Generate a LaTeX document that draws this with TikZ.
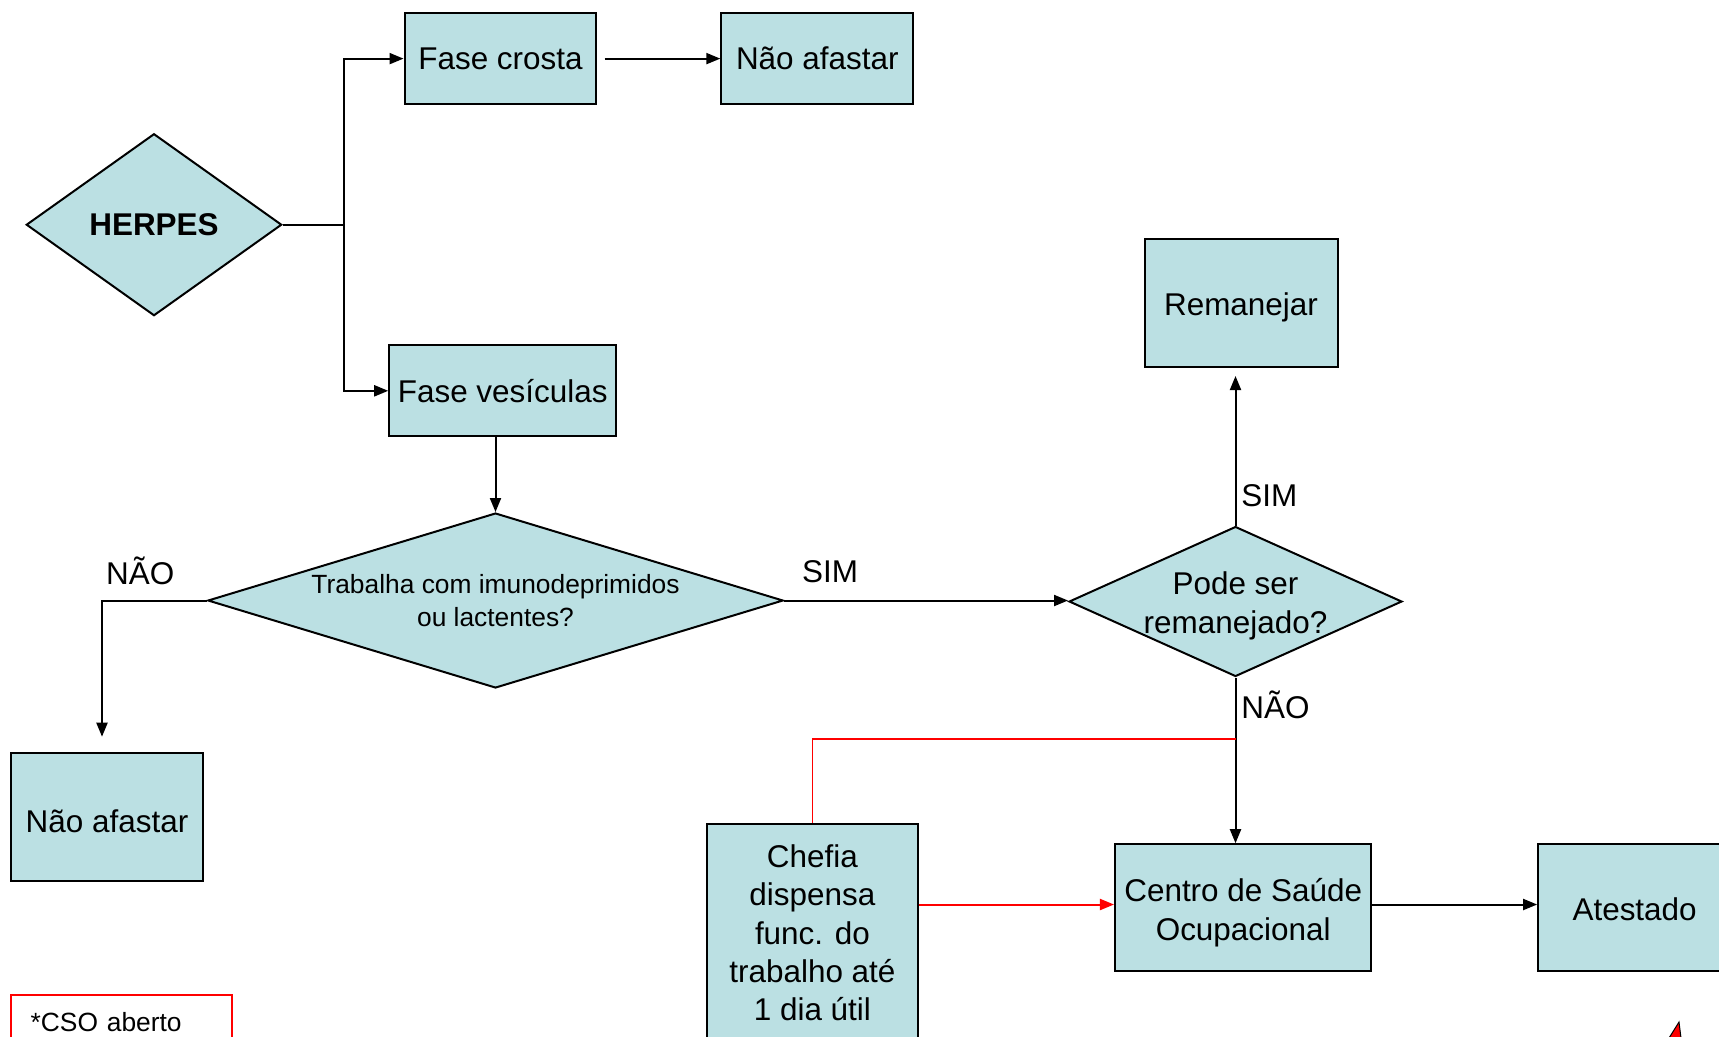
\documentclass[tikz,border=0pt]{standalone}
\usepackage{fontspec}
\setmainfont{Liberation Sans}
\usetikzlibrary{arrows.meta,shapes.geometric,positioning}
\definecolor{caixa}{RGB}{187,224,227}
\newcommand\alto[1]{\rule{0pt}{#1}}

\tikzset{
  etapa/.style={draw, fill=caixa, line width=0.04cm, align=center, inner sep=0pt},
  decisao/.style={diamond, draw, fill=caixa, line width=0.04cm, align=center, inner sep=-0.15cm},
  seta/.style={line width=0.04cm, -{Triangle[length=0.28cm,width=0.22cm]}},
  linha/.style={line width=0.04cm},
  rotulo/.style={inner sep=0pt}
}

\begin{document}
\begin{tikzpicture}[x=0.02cm, y=-0.02cm, font=\fontsize{17.9}{21.8}\selectfont]
    \useasboundingbox (0,0) rectangle (1719,1036);
    \clip (0,0) rectangle (1719,1036);

        \node[decisao, minimum width=5.11cm, minimum height=3.64cm, shape aspect=1.4] (herpes) at (154,224.7) {\bfseries HERPES};
        \node[etapa, minimum width=3.84cm, minimum height=1.82cm] (crosta) at (500.5,58.6) {Fase crosta};
        \node[etapa, minimum width=3.84cm, minimum height=1.82cm] (naoafastar1) at (817.3,58.6) {Não afastar};
        \node[etapa, minimum width=4.54cm, minimum height=1.82cm] (vesiculas) at (502.7,390.8) {Fase vesículas};
        \node[decisao, minimum width=11.51cm, minimum height=3.5cm, shape aspect=3.29,
              font=\fontsize{15}{18.6}\selectfont] (trabalha) at (495.5,600.5) {Trabalha com imunodeprimidos\\ou lactentes?};
        \node[etapa, minimum width=3.84cm, minimum height=2.56cm] (naoafastar2) at (107,817.2) {\alto{0.98em}Não afastar};
        \node[decisao, minimum width=6.66cm, minimum height=3cm, shape aspect=2.22] (pode) at (1235.5,601.5) {\alto{1em}Pode ser\\remanejado?};
        \node[etapa, minimum width=3.86cm, minimum height=2.56cm] (remanejar) at (1241,303.1) {\alto{1em}Remanejar};
        \node[etapa, minimum width=5.13cm, minimum height=2.54cm] (cso) at (1243.2,907.7) {\alto{1.05em}Centro de Saúde\\Ocupacional};
        \node[etapa, minimum width=3.86cm, minimum height=2.54cm] (atestado) at (1634.6,907.7) {\alto{0.84em}Atestado};
        \node[etapa, minimum width=4.21cm, minimum height=4.34cm] (chefia) at (812.4,932.9) {Chefia\\dispensa\\func. do\\trabalho até\\1 dia útil};
        \node[draw=red, line width=0.04cm, minimum width=4.43cm, minimum height=1.05cm, text width=3.64cm, inner xsep=0.39cm,
              align=left, font=\fontsize{15}{18}\selectfont] (nota) at (121.7,1021.7) {*CSO aberto};

        \node[rotulo] (nao1) at (140.3,571.2) {NÃO};
        \node[rotulo] (sim1) at (830,571.2) {SIM};
        \node[rotulo, anchor=west] (sim2) at (1241,495.5) {SIM};
        \node[rotulo, anchor=west] (nao2) at (1241,705) {NÃO};

        \coordinate (ramo) at (344,224.7);
        \coordinate (fim1) at (102,736.7);
        \coordinate (fim2) at (1235.5,376);
        \coordinate (juncao) at (1235.5,738.9);

        \draw[linha] (herpes.east) -- (ramo);
        \draw[seta] (ramo) |- (crosta.west);
        \draw[seta] (ramo) |- (vesiculas.west);
        \draw[seta] ([xshift=4]crosta.east) -- (naoafastar1.west);
        \draw[seta] (trabalha.north |- vesiculas.south) -- (trabalha.north);
        \draw[seta] (trabalha.west) -| (fim1);
        \draw[seta] (trabalha.east) -- (trabalha.east -| pode.west);
        \draw[seta] (pode.north) -- (fim2);
        \draw[seta] (pode.south) -- (pode.south |- cso.north);
        \draw[red, line width=0.035cm] (juncao) -| (chefia.north);
        \draw[seta, red] (chefia.east |- 0,904.5) -- (cso.west |- 0,904.5);
        \draw[seta] (cso.east |- 0,904.5) -- (atestado.west |- 0,904.5);

        \draw[fill=red, line width=0.02cm] (1669,1038) -- (1679,1022) -- (1681,1038) -- cycle;

\end{tikzpicture}
\end{document}
